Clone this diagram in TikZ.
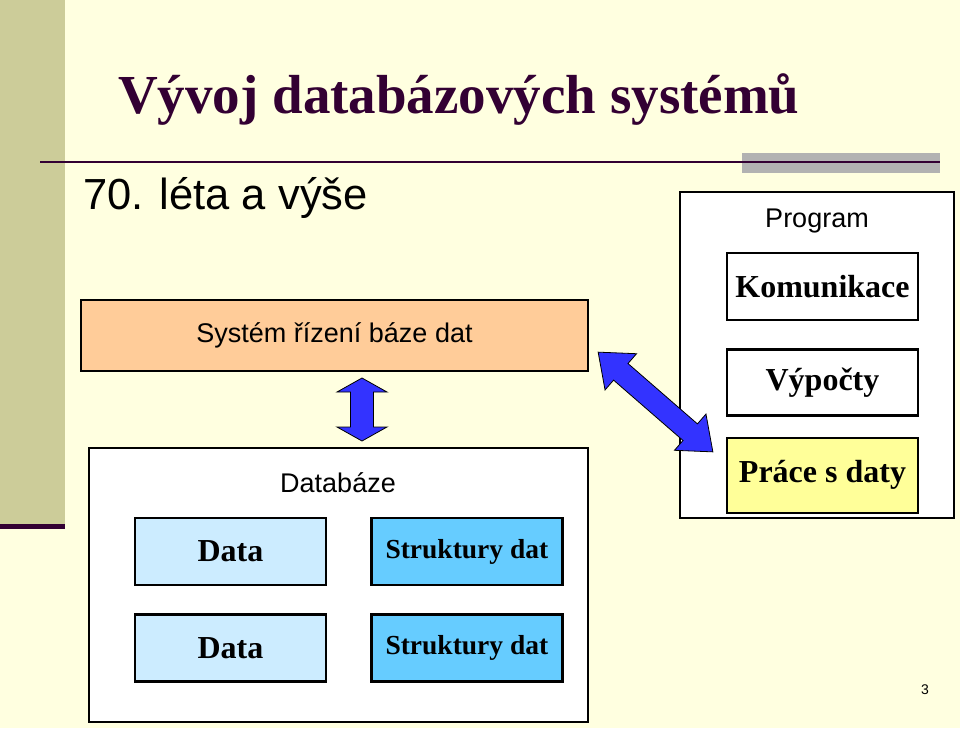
\documentclass[tikz,border=0pt]{standalone}
\usepackage{fontspec}
\setmainfont{Liberation Serif}
\setsansfont{Liberation Sans}
\usetikzlibrary{positioning}

\definecolor{slideBg}{HTML}{FFFFE0}
\definecolor{slideBar}{HTML}{CCCC99}
\definecolor{slideInk}{HTML}{330033}
\definecolor{boxPeach}{HTML}{FFCC99}
\definecolor{boxData}{HTML}{CCECFF}
\definecolor{boxStruct}{HTML}{66CCFF}
\definecolor{boxWork}{HTML}{FFFF99}
\definecolor{arrBlue}{HTML}{3333FF}

\tikzset{
  outerbox/.style={draw=black,line width=2.6pt,fill=white,inner sep=0pt},
  innerbox/.style={draw=black,line width=2.4pt,minimum width=191pt,inner sep=0pt,
    font=\fontsize{32}{36}\selectfont\bfseries},
  structbox/.style={innerbox,fill=boxStruct,minimum height=67pt,
    font=\fontsize{27.5}{30}\selectfont\bfseries},
  sans/.style={font=\sffamily\fontsize{27}{30}\selectfont,inner sep=0pt},
  blockarrow/.style={draw=black,line width=0.8pt,fill=arrBlue,line join=miter},
  pics/dblarrow/.style n args={4}{code={
    % #1 half length, #2 head length, #3 head half width, #4 shaft half width
    \draw[blockarrow] (-#1,0) -- (-#1+#2,-#3) -- (-#1+#2,-#4) -- (#1-#2,-#4)
      -- (#1-#2,-#3) -- (#1,0) -- (#1-#2,#3) -- (#1-#2,#4) -- (-#1+#2,#4)
      -- (-#1+#2,#3) -- cycle;
  }},
}

\begin{document}
\begin{tikzpicture}[x=1pt,y=-1pt]
% slide
\fill[slideBg] (0,0) rectangle (960,728);
\useasboundingbox (0,0) rectangle (960,728);
\fill[slideBar] (0,0) rectangle (65,525);
\fill[slideInk] (0,524) rectangle (65,529);
\fill[gray!60] (742,153) rectangle (940,173);
\draw[slideInk,line width=1.6pt] (40,162) -- (940,162);
\node[anchor=base west,inner sep=0pt,text=slideInk,font=\fontsize{55}{60}\selectfont\bfseries]
  (title) at (118,113) {Vývoj databázových systémů};
\node[anchor=base west,inner sep=0pt,font=\sffamily\fontsize{43.5}{48}\selectfont]
  (era) at (83,209) {70. léta a výše};

% DBMS and database
\node[outerbox,fill=boxPeach,minimum width=507pt,minimum height=71pt,sans]
  (dbms) at (334.5,335.5) {Systém řízení báze dat};
\node[outerbox,minimum width=499pt,minimum height=274pt] (db) at (338.5,585) {};
\node[sans] (dbtitle) at (338,483) {Databáze};
\node[innerbox,fill=boxData,minimum height=67pt] (data1) at (230.5,551.5) {Data};
\node[structbox,right=43pt of data1] (struct1) {Struktury dat};
\node[innerbox,fill=boxData,minimum height=67pt,below=27pt of data1] (data2) {Data};
\node[structbox,right=43pt of data2] (struct2) {Struktury dat};

% program
\node[outerbox,minimum width=274pt,minimum height=326pt] (prog) at (817,355) {};
\node[sans] (progtitle) at (817,221) {Program};
\node[innerbox,fill=white,minimum height=67pt] (komu) at (822.5,286.5) {Komunikace};
\node[innerbox,fill=white,minimum height=66pt,below=27pt of komu] (vypocty) {Výpočty};
\node[innerbox,fill=boxWork,minimum height=75pt,below=20pt of vypocty] (prace) {Práce s daty};

% block arrows
\pic[rotate=90] at (362,409.5) {dblarrow={31.5}{14}{25}{11.5}};
\pic[rotate=-41] at (655.5,402) {dblarrow={76}{30}{24}{11}};

\node[font=\sffamily\fontsize{14}{16}\selectfont,inner sep=0pt] (pagenum) at (925,690) {3};
\end{tikzpicture}
\end{document}
